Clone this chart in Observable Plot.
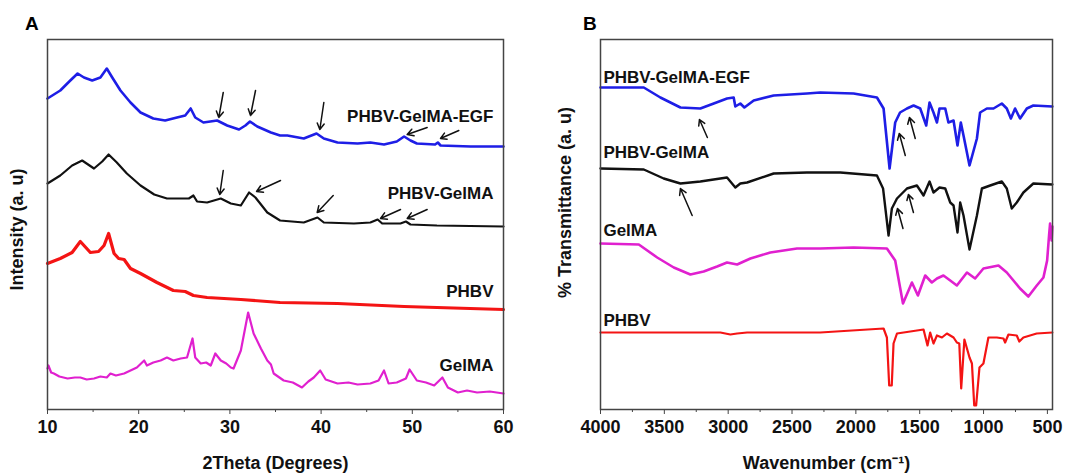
<!DOCTYPE html>
<html><head><meta charset="utf-8">
<script src="https://cdn.jsdelivr.net/npm/d3@7"></script>
<script src="https://cdn.jsdelivr.net/npm/@observablehq/plot@0.6"></script>
<style>
body{margin:0;background:#fff;}
#wrap{position:relative;width:1067px;height:473px;font-family:"Liberation Sans",Arial,sans-serif;overflow:hidden;}
.pl{position:absolute;top:0;}
.tag{position:absolute;font-weight:bold;font-size:19px;line-height:1;}
</style></head><body>
<div id="wrap">
 <div class="tag" style="left:25px;top:14px">A</div>
 <div class="tag" style="left:583px;top:14px">B</div>
</div>
<script>
// ---------- Panel A: XRD (2Theta, intensity a.u.) ----------
const xTicksA = [10, 20, 30, 40, 50, 60];
const xMinorA = [15, 25, 35, 45, 55];
const xrdEGF = [[10.0,311],[11.4,319],[12.5,329],[13.3,336],[14.0,332],[14.9,329],[15.8,332],[16.5,341],[17.1,332],[18.0,319],[19.1,307],[20.2,297],[21.6,291],[22.9,289],[24.2,292],[25.1,294],[25.7,301],[26.2,292],[27.1,287],[28.6,289],[29.7,284],[31.0,280],[31.7,284],[32.2,288],[33.0,283],[34.5,277],[35.5,274],[36.3,274],[38.1,271],[39.5,276],[40.3,271],[41.8,267],[44.0,266],[45.4,267],[46.9,265],[48.3,268],[49.1,273],[49.8,269],[50.5,266],[52.5,265],[52.8,267],[53.1,264],[56.4,263],[60.0,263]];
const xrdPG = [[10.0,226],[11.4,234],[12.7,244],[13.8,249],[15.1,241],[16.0,248],[16.7,255],[17.6,247],[18.7,236],[20.2,224],[21.7,215],[23.1,211],[24.6,211],[25.5,211],[26.0,214],[26.4,208],[27.5,207],[29.0,211],[30.1,206],[31.2,204],[32.1,217],[32.8,212],[34.1,197],[35.5,189],[38.1,187],[39.6,192],[40.3,187],[43.6,186],[45.4,187],[46.2,190],[46.7,186],[48.7,186],[49.3,188],[49.8,185],[52.7,184],[60.0,183]];
const xrdPHBV = [[10.0,146],[11.4,151],[12.7,157],[13.6,168],[14.2,162],[14.7,157],[15.6,158],[16.2,164],[16.7,176],[17.3,156],[17.8,151],[18.4,150],[19.1,141],[20.2,136],[22.0,127],[23.8,119],[25.1,118],[26.0,114],[27.5,112],[31.2,110],[35.5,107],[41.8,106],[49.1,103],[52.7,102],[60.0,100]];
const xrdGelMA = [[10.0,41],[10.1,44],[10.4,37],[10.7,36],[11.3,33],[12.2,31],[13.0,32],[13.6,32],[14.3,30],[15.1,31],[15.8,33],[16.5,32],[16.9,36],[17.5,34],[18.4,36],[19.1,39],[19.8,42],[20.6,49],[20.9,44],[21.6,47],[22.4,49],[23.1,52],[23.8,49],[24.6,51],[25.3,52],[25.9,71],[26.2,52],[26.8,46],[27.4,47],[27.9,44],[28.4,56],[29.0,49],[29.6,46],[30.1,42],[30.4,41],[31.2,59],[32.0,97],[32.6,76],[33.4,61],[34.1,49],[34.5,45],[34.8,36],[35.9,29],[36.9,27],[37.9,22],[38.6,28],[39.2,32],[39.9,39],[40.5,30],[41.8,26],[43.0,27],[44.0,25],[45.4,26],[46.3,29],[46.9,39],[47.4,26],[48.3,27],[49.3,31],[49.7,40],[50.5,29],[51.5,27],[52.4,24],[53.3,32],[53.9,22],[55.0,17],[56.0,19],[57.1,17],[58.5,18],[60.0,16]];
const labelsA = [["PHBV-GelMA-EGF",58.9,293],["PHBV-GelMA",58.9,216],["PHBV",58.9,118],["GelMA",58.9,44]];
const arrowsA = [[29.27,317,28.78,292],[32.81,319,32.26,294],[40.30,307,39.86,280],[51.63,282,49.44,275],[55.10,279,53.09,271],
                 [29.27,239,28.89,215],[35.55,229,32.92,218],[41.33,214,39.57,197],[48.71,200,46.51,191],[51.63,200,49.44,191]];

// ---------- Panel B: FTIR (wavenumber, transmittance a.u.) ----------
const xTicksB = [4000, 3500, 3000, 2500, 2000, 1500, 1000, 500];
const xMinorB = [3750, 3250, 2750, 2250, 1750, 1250, 750];
const ftEGF = [[4000,322],[3661,322],[3531,312],[3374,302],[3218,301],[3113,306],[3009,311],[2957,312],[2944,303],[2905,306],[2873,302],[2800,309],[2644,314],[2383,316],[2279,317],[2018,316],[1835,312],[1783,301],[1736,241],[1692,287],[1654,297],[1600,301],[1548,304],[1496,301],[1449,284],[1423,307],[1392,297],[1365,287],[1345,301],[1300,301],[1275,287],[1235,289],[1204,264],[1178,287],[1157,274],[1110,244],[1052,271],[1027,297],[974,301],[922,301],[857,306],[818,301],[786,291],[753,301],[714,291],[661,301],[610,304],[461,303]];
const ftPG = [[4000,241],[3661,240],[3505,231],[3374,226],[3218,228],[3009,232],[2944,222],[2905,226],[2852,227],[2644,236],[2383,237],[2122,237],[1835,234],[1787,221],[1744,174],[1718,201],[1678,211],[1600,221],[1522,224],[1470,214],[1423,228],[1392,217],[1345,222],[1300,221],[1261,207],[1235,204],[1204,177],[1183,207],[1157,194],[1110,160],[1052,194],[1013,221],[948,224],[857,228],[818,221],[779,201],[740,207],[688,217],[610,226],[461,225]];
const ftGelMA = [[4000,166],[3700,165],[3556,152],[3426,142],[3296,135],[3192,138],[3087,143],[3009,147],[2930,145],[2826,151],[2670,157],[2461,161],[2279,161],[2018,162],[1757,161],[1692,149],[1631,106],[1561,127],[1514,114],[1457,134],[1405,127],[1365,131],[1314,134],[1261,129],[1209,124],[1130,137],[1066,131],[1001,141],[883,144],[818,137],[714,121],[649,113],[583,124],[531,132],[502,149],[487,174],[479,186],[467,169],[461,183]];
const ftPHBV = [[4000,77],[3061,77],[2983,75],[2930,76],[2852,77],[2279,77],[1783,81],[1757,72],[1739,24],[1719,24],[1705,66],[1678,76],[1470,80],[1439,64],[1418,77],[1392,66],[1365,74],[1326,72],[1287,76],[1235,72],[1209,67],[1190,66],[1175,21],[1150,70],[1110,52],[1091,46],[1073,4],[1058,4],[1032,42],[1001,46],[962,72],[896,72],[844,71],[831,67],[805,75],[740,74],[720,68],[688,72],[584,76],[461,77]];
const labelsB = [["PHBV-GelMA-EGF",3977,332],["PHBV-GelMA",3977,257],["GelMA",3977,179],["PHBV",3977,89]];
const arrowsB = [[3163,272,3225,290],[1613,254,1660,276],[1535,271,1580,292],[3282,194,3374,221],[1631,181,1674,201],[1549,197,1588,215]];

const FONT = "Liberation Sans, Arial, sans-serif";
const style = {fontFamily: FONT, fontSize: "18px", fontWeight: "bold", background: "transparent", overflow: "visible", color: "#111"};
const C = {blue: "#1e1ee6", black: "#111111", red: "#f41414", magenta: "#e020cf"};
const line = (data, stroke, w) => Plot.line(data, {x: d => d[0], y: d => d[1], stroke, strokeWidth: w, strokeLinejoin: "round", strokeLinecap: "round"});

function panel({width, margins, domain, ticks, minor, series, labels, labelAnchor, arrows, xTitle, yTitle, yDx, yDy}) {
  const svg = Plot.plot({
    width, height: 473,
    marginLeft: margins[0], marginRight: margins[1], marginTop: 39, marginBottom: 64,
    style,
    x: {domain},
    y: {domain: [0, 370], axis: null},
    marks: [
      ...series.map(([d, c, w]) => line(d, c, w)),
      Plot.arrow(arrows, {x1: d => d[0], y1: d => d[1], x2: d => d[2], y2: d => d[3], stroke: "#111", strokeWidth: 1.5, headLength: 7}),
      Plot.text(labels, {text: d => d[0], x: d => d[1], y: d => d[2], textAnchor: labelAnchor, fontSize: 17, fontWeight: "bold", fill: "#111", ariaLabel: "curve-label"}),
      Plot.frame({stroke: "#444", strokeWidth: 1.5}),
      Plot.axisX(ticks, {tickSize: 5, tickPadding: 6, label: null, tickFormat: d => String(d), stroke: "#444"}),
      Plot.axisX(minor, {tickSize: 3, tickFormat: () => "", label: null, stroke: "#444"}),
      Plot.text([xTitle], {frameAnchor: "bottom", lineAnchor: "middle", textAnchor: "middle", dy: 54, fontSize: 18, fontWeight: "bold", fill: "#111"}),
      Plot.text([yTitle], {frameAnchor: "left", textAnchor: "middle", lineAnchor: "middle", rotate: -90, dx: yDx, dy: yDy, fontSize: 18, fontWeight: "bold", fill: "#111"})
    ]
  });
  d3.select(svg).selectAll("g[aria-label='x-axis tick label'] text")
    .attr("font-size", 18).attr("font-weight", "bold").attr("fill", "#111");
  d3.select(svg).selectAll("g[aria-label='x-axis tick label']")
    .attr("font-size", 18).attr("font-weight", "bold");
  d3.select(svg).selectAll("g[aria-label='curve-label'] text").attr("letter-spacing", "0.6px");
  return svg;
}

const A = panel({
  width: 533, margins: [47, 30], domain: [10, 60], ticks: xTicksA, minor: xMinorA,
  series: [[xrdGelMA, C.magenta, 2.2], [xrdPHBV, C.red, 3.2], [xrdPG, C.black, 2.2], [xrdEGF, C.blue, 2.6]],
  labels: labelsA, labelAnchor: "end", arrows: arrowsA,
  xTitle: "2Theta (Degrees)", yTitle: "Intensity (a. u)", yDx: -30, yDy: 5
});
A.classList.add("pl"); A.style.left = "0px";

const B = panel({
  width: 534, margins: [67, 15], domain: [4000, 460], ticks: xTicksB, minor: xMinorB,
  series: [[ftPHBV, C.red, 2.2], [ftGelMA, C.magenta, 2.6], [ftPG, C.black, 2.4], [ftEGF, C.blue, 2.6]],
  labels: labelsB, labelAnchor: "start", arrows: arrowsB,
  xTitle: "Wavenumber (cm\u207B\u00B9)", yTitle: "% Transmittance (a. u)", yDx: -35, yDy: -22
});
B.classList.add("pl"); B.style.left = "533px";

document.getElementById("wrap").append(A, B);
</script>
</body></html>
